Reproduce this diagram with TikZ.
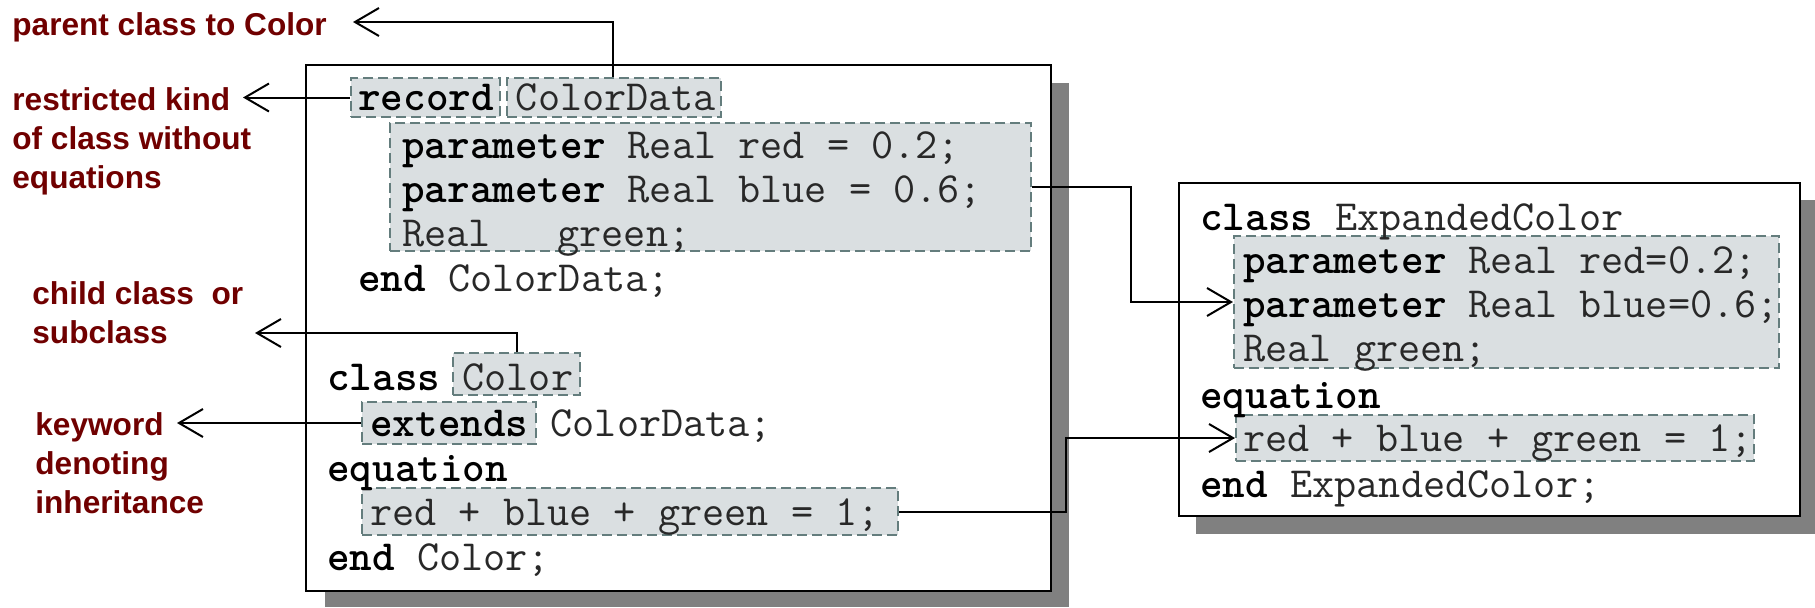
\documentclass[tikz,border=0pt]{standalone}
\usepackage{fontspec}
\setmainfont{Liberation Sans}
\usetikzlibrary{arrows.meta,fit,calc}
\definecolor{lblred}{RGB}{112,0,0}
\definecolor{hlfill}{RGB}{218,223,225}
\definecolor{hldraw}{RGB}{100,125,125}
\definecolor{shadowgray}{RGB}{128,128,128}
\definecolor{codegray}{RGB}{40,40,40}
\tikzset{
 classbox/.style={draw=black, line width=1.2pt, fill=white, inner sep=0pt},
 shadowbox/.style={fill=shadowgray, draw=none, inner sep=0pt},
 hl/.style={draw=hldraw, fill=hlfill, line width=1pt, dash pattern=on 5pt off 2.5pt, inner sep=0pt},
 code/.style={anchor=west, inner sep=0pt, text height=16.4pt, text depth=3.3pt, font=\ttfamily\fontsize{21.5pt}{24pt}\selectfont, text=codegray},
 lbl/.style={anchor=north west, inner sep=0pt, align=left, text=lblred, font=\fontsize{15.8pt}{19.5pt}\selectfont\bfseries},
 conn/.style={draw=black, line width=1pt},
 arr/.style={conn, -{Straight Barb[length=12pt,width=14pt,line width=1pt]}}
}
\newcommand{\kw}[1]{\textbf{\color{black}#1}}
\begin{document}
\begin{tikzpicture}[x=0.5pt,y=-0.5pt]
\useasboundingbox (0,0) rectangle (1815,607);
% shadows
\node[shadowbox, fit={(325,83) (1069,607)}] (lshadow) {};
\node[shadowbox, fit={(1196,200) (1815,534)}] (rshadow) {};
% class boxes
\node[classbox, fit={(306,65) (1051,591)}] (leftbox) {};
\node[classbox, fit={(1179,183) (1800,516)}] (rightbox) {};
% highlight boxes
\node[hl, fit={(351,78) (500,117)}] (rec) {};
\node[hl, fit={(507,78) (721,117)}] (cd) {};
\node[hl, fit={(390,123) (1031,251)}] (params) {};
\node[hl, fit={(453,353) (580,395)}] (colbox) {};
\node[hl, fit={(362,402) (536,444)}] (ext) {};
\node[hl, fit={(362,488) (898,535)}] (eq) {};
\node[hl, fit={(1234,236) (1779,368)}] (rparams) {};
\node[hl, fit={(1236,415) (1754,461)}] (req) {};
% left code
\node[code] (l1) at (358,97) {\kw{record} ColorData};
\node[code] (l2) at (402,145) {\kw{parameter} Real red = 0.2;};
\node[code] (l3) at (402,189) {\kw{parameter} Real blue = 0.6;};
\node[code] (l4) at (402,233) {Real~~~green;};
\node[code] (l5) at (358,278) {\kw{end} ColorData;};
\node[code] (l6) at (327,377) {\kw{class} Color};
\node[code] (l7) at (370,423) {\kw{extends} ColorData;};
\node[code] (l8) at (327,468) {\kw{equation}};
\node[code] (l9) at (370,512) {red + blue + green = 1;};
\node[code] (l10) at (327,557) {\kw{end} Color;};
% right code
\node[code] (r1) at (1200,217) {\kw{class} ExpandedColor};
\node[code] (r2) at (1243,260) {\kw{parameter} Real red=0.2;};
\node[code] (r3) at (1243,304) {\kw{parameter} Real blue=0.6;};
\node[code] (r4) at (1243,348) {Real green;};
\node[code] (r5) at (1200,395) {\kw{equation}};
\node[code] (r6) at (1243,438) {red + blue + green = 1;};
\node[code] (r7) at (1200,484) {\kw{end} ExpandedColor;};
% labels
\node[lbl] (lparent) at (12,12) {parent class to Color};
\node[lbl] (lrestr) at (12,87) {restricted kind\\of class without\\equations};
\node[lbl] (lchild) at (32,281) {child class~ or\\subclass};
\node[lbl] (lkey) at (35,412) {keyword\\denoting\\inheritance};
% connector coordinates
\coordinate (j0) at (613,22);
\coordinate (t1) at (353,22);
\coordinate (t2) at (243,0);
\coordinate (j3) at (517,333);
\coordinate (t3) at (255,333);
\coordinate (t4) at (177,0);
\coordinate (j5) at (1131,302);
\coordinate (j6) at (1066,438);
% connectors
\draw[arr] (cd.north -| j0) -- (j0) -- (t1);
\draw[arr] (rec.west) -- (rec.west -| t2);
\draw[arr] (colbox.north -| j3) -- (j3) -- (t3);
\draw[arr] (ext.west) -- (ext.west -| t4);
\draw[arr] (params.east) -| (j5) -- (rparams.west);
\draw[arr] (eq.east) -| (j6) -- (req.west);
\end{tikzpicture}
\end{document}
